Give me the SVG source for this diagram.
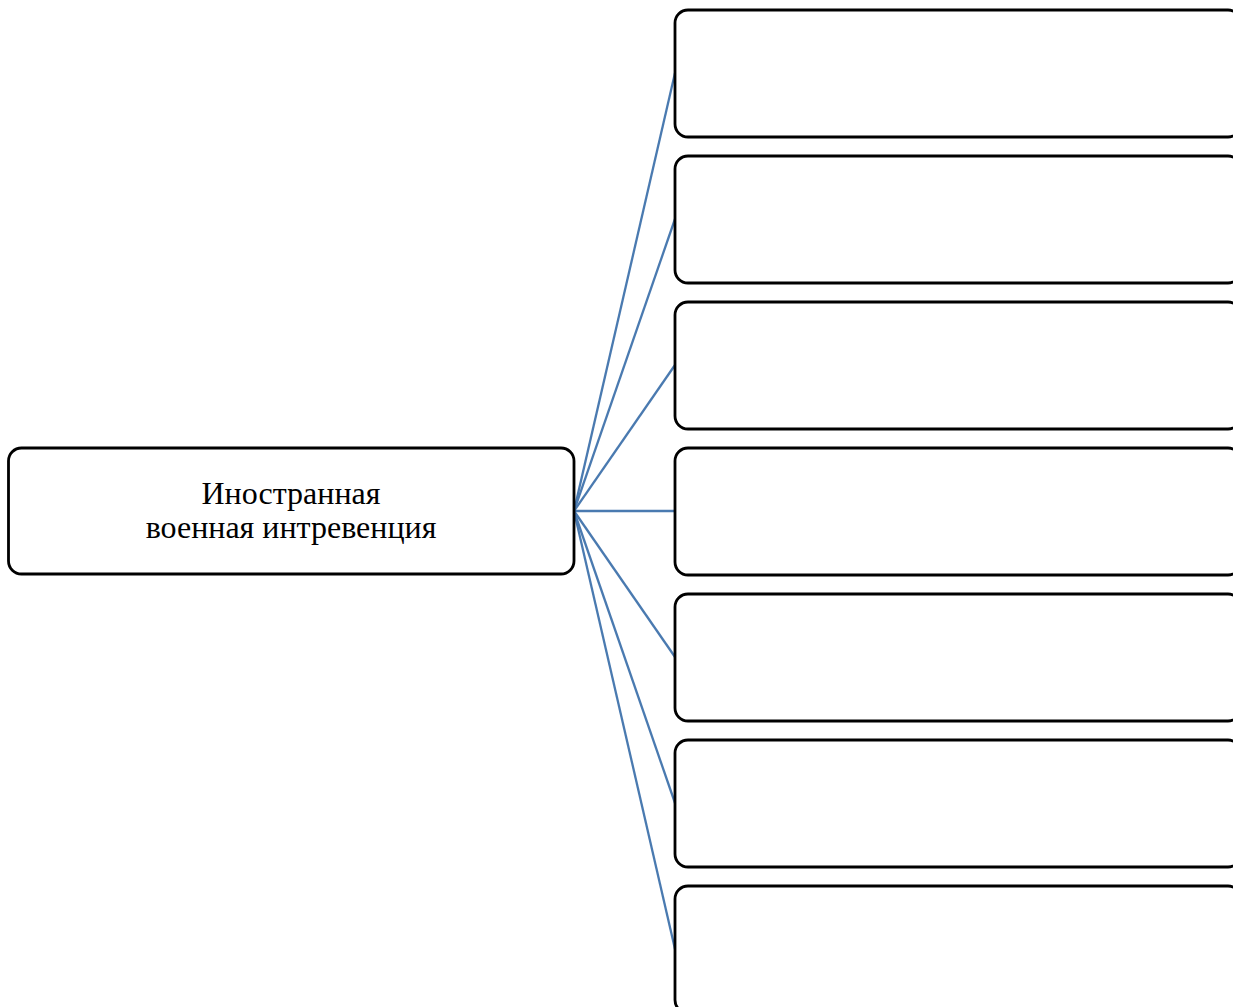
<svg xmlns="http://www.w3.org/2000/svg" width="1233" height="1007" viewBox="0 0 1233 1007">
<style>
.box{fill:#fff;stroke:#000;stroke-width:2.8}
.con{stroke:#4a7ab0;stroke-width:2.3;fill:none}
.lbl{font-family:"Liberation Serif",serif;font-size:32px;fill:#000;text-anchor:middle}
</style>
<rect width="1233" height="1007" fill="#fff"/>
<g id="connectors">
<line class="con" x1="574" y1="511" x2="675" y2="73"/>
<line class="con" x1="574" y1="511" x2="675" y2="219"/>
<line class="con" x1="574" y1="511" x2="675" y2="365"/>
<line class="con" x1="574" y1="511" x2="675" y2="511"/>
<line class="con" x1="574" y1="511" x2="675" y2="657"/>
<line class="con" x1="574" y1="511" x2="675" y2="803"/>
<line class="con" x1="574" y1="511" x2="675" y2="949"/>
</g>
<g id="root">
<rect class="box" x="8.5" y="448" width="565.5" height="126" rx="13"/>
<text class="lbl" x="291" y="504">Иностранная</text>
<text class="lbl" x="291" y="538">военная интревенция</text>
</g>
<g id="n1"><rect class="box" x="675" y="10" width="566" height="127" rx="13"/></g>
<g id="n2"><rect class="box" x="675" y="156" width="566" height="127" rx="13"/></g>
<g id="n3"><rect class="box" x="675" y="302" width="566" height="127" rx="13"/></g>
<g id="n4"><rect class="box" x="675" y="448" width="566" height="127" rx="13"/></g>
<g id="n5"><rect class="box" x="675" y="594" width="566" height="127" rx="13"/></g>
<g id="n6"><rect class="box" x="675" y="740" width="566" height="127" rx="13"/></g>
<g id="n7"><rect class="box" x="675" y="886" width="566" height="127" rx="13"/></g>
</svg>
